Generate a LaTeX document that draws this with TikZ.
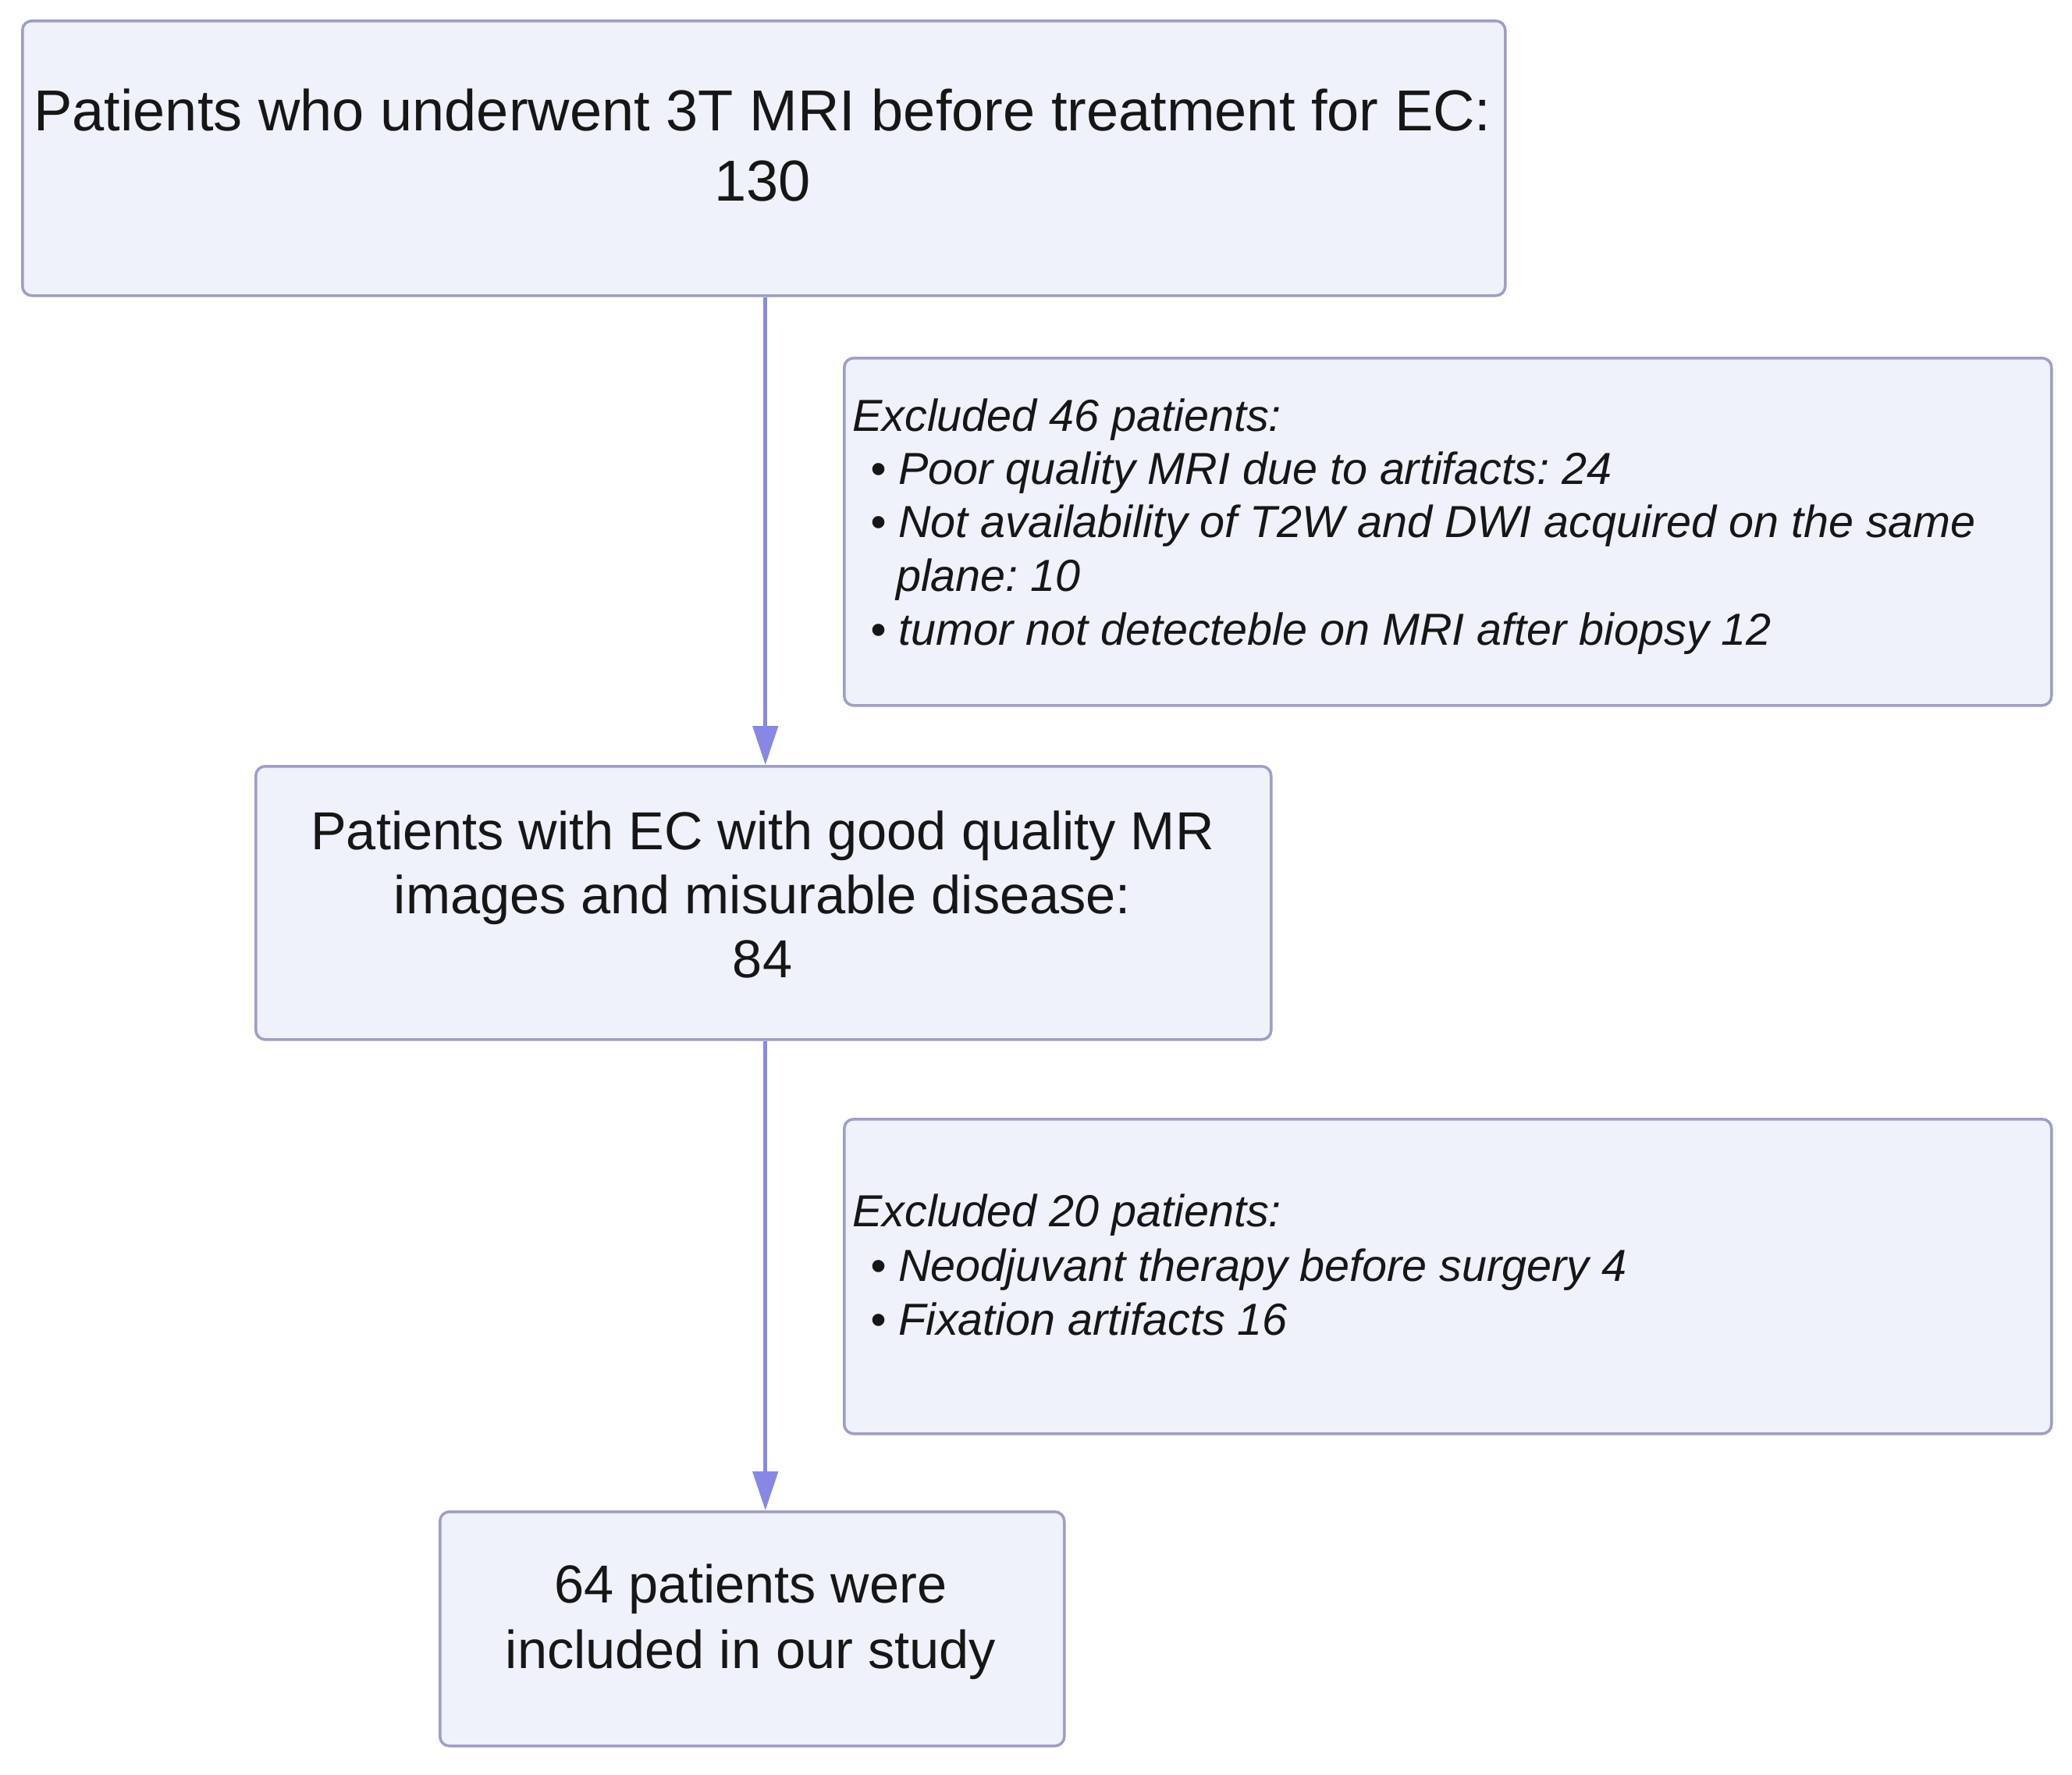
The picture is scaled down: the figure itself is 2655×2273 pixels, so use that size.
\documentclass[tikz,border=0pt]{standalone}
\usepackage{fontspec}
\setmainfont{Liberation Sans}
\usetikzlibrary{arrows.meta}
\definecolor{boxfill}{RGB}{239,241,251}
\definecolor{boxdraw}{RGB}{158,158,198}
\definecolor{arrowcol}{RGB}{136,136,228}
\definecolor{txt}{RGB}{22,22,22}
\frenchspacing
\begin{document}
\frenchspacing
\begin{tikzpicture}[x=1pt,y=-1pt,
  box/.style={draw=boxdraw, fill=boxfill, line width=3.5pt, rounded corners=12pt, inner sep=0pt, anchor=north west},
  bigtext/.style={inner sep=0pt, anchor=base, text=txt, font=\fontsize{74}{90}\selectfont},
  midtext/.style={inner sep=0pt, anchor=base, text=txt, font=\fontsize{68.5}{83}\selectfont},
  exctext/.style={inner sep=0pt, anchor=base west, text=txt, font=\fontsize{57.5}{69}\selectfont\itshape},
  conn/.style={draw=arrowcol, line width=5pt, -{Triangle[length=50pt,width=32pt]}}
]
\useasboundingbox (0,0) rectangle (2655,2273);
\fill[white] (0,0) rectangle (2655,2273);

% boxes
\node[box, minimum width=1900pt, minimum height=352pt] (b1) at (27,25) {};
\node[box, minimum width=1547pt, minimum height=445pt] (e1) at (1080,457) {};
\node[box, minimum width=1301pt, minimum height=350pt] (b2) at (326,980) {};
\node[box, minimum width=1547pt, minimum height=403pt] (e2) at (1080,1432) {};
\node[box, minimum width=800pt, minimum height=300pt] (b3) at (562,1935) {};

% texts
\node[bigtext] (t1a) at (977,167) {Patients who underwent 3T MRI before treatment for EC:};
\node[bigtext] (t1b) at (977,257) {130};

\node[exctext] (x1a) at (1092,552) {Excluded 46 patients:};
\node[exctext] (x1b) at (1115,620) {•\ Poor quality MRI due to artifacts: 24};
\node[exctext] (x1c) at (1115,688) {•\ Not availability of T2W and DWI acquired on the same};
\node[exctext] (x1d) at (1148,757) {plane: 10};
\node[exctext] (x1e) at (1115,826) {•\ tumor not detecteble on MRI after biopsy 12};

\node[midtext] (t2a) at (977,1088) {Patients with EC with good quality MR};
\node[midtext] (t2b) at (977,1170) {images and misurable disease:};
\node[midtext] (t2c) at (977,1252) {84};

\node[exctext] (x2a) at (1092,1571) {Excluded 20 patients:};
\node[exctext] (x2b) at (1115,1641) {•\ Neodjuvant therapy before surgery 4};
\node[exctext] (x2c) at (1115,1710) {•\ Fixation artifacts 16};

\node[midtext] (t3a) at (962,2053) {64 patients were};
\node[midtext] (t3b) at (962,2137) {included in our study};

% connectors
\draw[conn] ([xshift=2pt]b1.south) -- ([xshift=2pt]b1.south |- b2.north);
\draw[conn] ([xshift=2.5pt]b2.south) -- ([xshift=2.5pt]b2.south |- b3.north);
\end{tikzpicture}
\end{document}
